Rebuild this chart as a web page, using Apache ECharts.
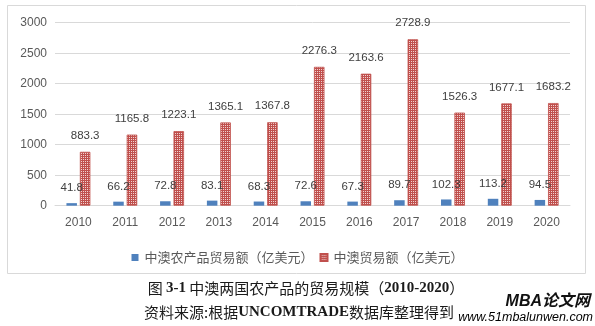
<!DOCTYPE html>
<html>
<head>
<meta charset="utf-8">
<script src="https://cdn.jsdelivr.net/npm/echarts@6/dist/echarts.min.js"></script>
<style>
  html, body { margin: 0; padding: 0; background: #ffffff; }
  #chart { width: 595px; height: 326px; }
</style>
</head>
<body>
<div id="chart"></div>
<script>
// 中澳贸易规模 2010-2020（亿美元）
const years = ['2010', '2011', '2012', '2013', '2014', '2015', '2016', '2017', '2018', '2019', '2020'];
const agriTrade = [41.8, 66.2, 72.8, 83.1, 68.3, 72.6, 67.3, 89.7, 102.3, 113.2, 94.5];
const totalTrade = [883.3, 1165.8, 1223.1, 1365.1, 1367.8, 2276.3, 2163.6, 2728.9, 1526.3, 1677.1, 1683.2];
const seriesNames = ['中澳农产品贸易额（亿美元）', '中澳贸易额（亿美元）'];
const yTicks = { min: 0, max: 3000, interval: 500 };

// dotted red fill for the total-trade bars
function dotPattern() {
  const c = document.createElement('canvas');
  c.width = 2; c.height = 2;
  const g = c.getContext('2d');
  g.fillStyle = '#c0504d';
  g.fillRect(0, 0, 2, 2);
  g.fillStyle = '#f1d2d1';
  g.fillRect(1, 1, 1, 1);
  return c;
}

const chart = echarts.init(document.getElementById('chart'), null, { renderer: 'canvas' });
const labelFont = { fontFamily: 'Liberation Sans, Arial, sans-serif', fontSize: 11.5, color: '#404040' };
const axisFont = { fontFamily: 'Liberation Sans, Arial, sans-serif', fontSize: 12, color: '#595959' };

chart.setOption({
  animation: false,
  backgroundColor: '#ffffff',
  graphic: [
    {
      type: 'rect', z: -10, silent: true,
      shape: { x: 7.5, y: 5.5, width: 578, height: 268 },
      style: { fill: '#ffffff', stroke: '#d9d9d9', lineWidth: 1 }
    },
    {
      type: 'text', x: 306, y: 288,
      style: {
        text: '{n|图 }{b|3-1}{n| 中澳两国农产品的贸易规模（}{b|2010-2020}{n|）}',
        align: 'center', verticalAlign: 'middle',
        rich: {
          n: { fontFamily: 'Noto Sans CJK SC, Liberation Serif, serif', fontSize: 15, fill: '#1a1a1a' },
          b: { fontFamily: 'Liberation Serif, serif', fontWeight: 'bold', fontSize: 15, fill: '#1a1a1a' }
        }
      }
    },
    {
      type: 'text', x: 299, y: 312,
      style: {
        text: '{n|资料来源:根据}{b|UNCOMTRADE}{n|数据库整理得到}',
        align: 'center', verticalAlign: 'middle',
        rich: {
          n: { fontFamily: 'Noto Sans CJK SC, Liberation Serif, serif', fontSize: 15, fill: '#1a1a1a' },
          b: { fontFamily: 'Liberation Serif, serif', fontWeight: 'bold', fontSize: 15, fill: '#1a1a1a' }
        }
      }
    },
    {
      type: 'text', x: 590, y: 302,
      style: {
        text: 'MBA论文网', align: 'right', verticalAlign: 'middle',
        fontFamily: 'Liberation Sans, Noto Sans CJK SC, sans-serif',
        fontWeight: 'bold', fontStyle: 'italic', fontSize: 16, fill: '#111111'
      }
    },
    {
      type: 'text', x: 593, y: 318,
      style: {
        text: 'www.51mbalunwen.com', align: 'right', verticalAlign: 'middle',
        fontFamily: 'Liberation Sans, sans-serif', fontStyle: 'italic', fontSize: 12.5,
        fill: new echarts.graphic.LinearGradient(0, 0, 1, 0, [
          { offset: 0, color: '#e8298e' },
          { offset: 0.55, color: '#b04ab8' },
          { offset: 1, color: '#2bb3d6' }
        ])
      }
    }
  ],
  legend: {
    data: seriesNames,
    left: 'center',
    top: 246,
    icon: 'rect',
    itemWidth: 7,
    itemHeight: 7,
    itemGap: 6,
    textStyle: { fontFamily: 'Noto Sans CJK SC, sans-serif', fontSize: 13, color: '#595959', padding: [0, 0, 0, 1] }
  },
  grid: { left: 55, right: 25, top: 22.7, bottom: 120.3, containLabel: false },
  xAxis: {
    type: 'category',
    data: years,
    axisLine: { show: true, lineStyle: { color: '#d9d9d9' } },
    axisTick: { show: false },
    axisLabel: Object.assign({ margin: 11 }, axisFont)
  },
  yAxis: {
    type: 'value',
    min: yTicks.min, max: yTicks.max, interval: yTicks.interval,
    axisLine: { show: false },
    axisTick: { show: false },
    splitLine: { lineStyle: { color: '#d9d9d9' } },
    axisLabel: Object.assign({ margin: 8, formatter: v => String(v) }, axisFont)
  },
  series: [
    {
      name: seriesNames[0],
      type: 'bar',
      data: agriTrade,
      barWidth: 10.5,
      barGap: '28%',
      itemStyle: { color: '#4f81bd' },
      label: Object.assign({ show: true, position: 'top', distance: 9 }, labelFont)
    },
    {
      name: seriesNames[1],
      type: 'bar',
      data: totalTrade,
      barWidth: 10.5,
      itemStyle: {
        color: { image: dotPattern(), repeat: 'repeat' },
        borderColor: '#c0504d', borderWidth: 0.8
      },
      label: Object.assign({ show: true, position: 'top', distance: 10 }, labelFont)
    }
  ]
});
</script>
</body>
</html>
